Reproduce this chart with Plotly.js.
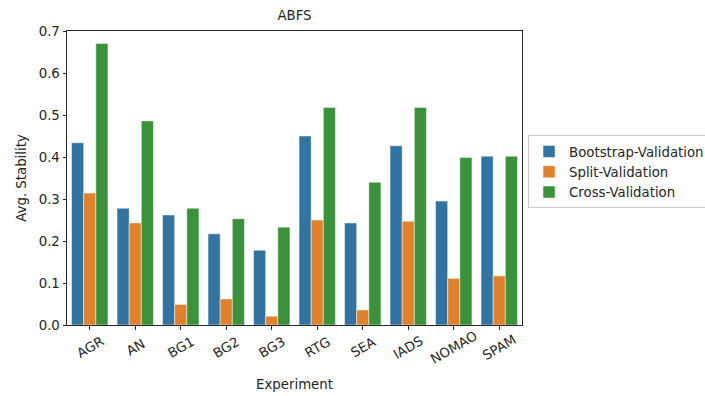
<!DOCTYPE html>
<html>
<head>
<meta charset="utf-8">
<script src="https://cdn.plot.ly/plotly-3.0.1.min.js"></script>
<style>html,body{margin:0;padding:0;background:#fff;}#chart{width:705px;height:396px;}</style>
</head>
<body>
<div id="chart"></div>
<script>
const experiments = ["AGR","AN","BG1","BG2","BG3","RTG","SEA","IADS","NOMAO","SPAM"];
const bootstrapValidation = [0.434,0.278,0.262,0.217,0.178,0.450,0.243,0.427,0.295,0.402];
const splitValidation = [0.314,0.243,0.049,0.062,0.021,0.250,0.036,0.247,0.111,0.117];
const crossValidation = [0.670,0.486,0.278,0.253,0.233,0.518,0.340,0.518,0.399,0.402];
const seriesNames = ["Bootstrap-Validation","Split-Validation","Cross-Validation"];
const yTicks = [0,0.1,0.2,0.3,0.4,0.5,0.6,0.7];

const colors = ["#3274a1","#e1812c","#3a923a"];
const seriesValues = [bootstrapValidation, splitValidation, crossValidation];
const traces = seriesValues.map((vals, i) => ({
  type: "bar",
  name: seriesNames[i],
  x: experiments,
  y: vals,
  marker: {color: colors[i], line: {color: "rgba(255,255,255,0.6)", width: 0.8}},
  hoverinfo: "x+y+name"
}));

const FS = 13.3;
const font = {family: "DejaVu Sans, sans-serif", size: FS, color: "#262626"};

// rotated category labels, centred on each tick like matplotlib (rotation=30, ha=center)
const tickAnnotations = experiments.map(name => ({
  x: name, xref: "x", y: 0, yref: "paper",
  text: name, showarrow: false, textangle: -30,
  xanchor: "center", yanchor: "middle", yshift: -22,
  font: font
}));

const layout = {
  width: 705, height: 396,
  margin: {l: 67, r: 183, t: 31, b: 71, pad: 0, autoexpand: false},
  paper_bgcolor: "#fff", plot_bgcolor: "#fff",
  font: font,
  title: {text: "ABFS", font: {family: "DejaVu Sans, sans-serif", size: FS, color: "#262626"},
          xref: "paper", x: 0.5, xanchor: "center", y: 0.962, yanchor: "middle"},
  barmode: "group", bargap: 0.2, bargroupgap: 0,
  xaxis: {
    type: "category",
    showline: true, linecolor: "#262626", linewidth: 1, mirror: true,
    ticks: "outside", ticklen: 3.5, tickcolor: "#262626",
    showticklabels: false,
    showgrid: false, zeroline: false,
    title: {text: "Experiment", font: font, standoff: 51}
  },
  yaxis: {
    range: [0, 0.7],
    tickvals: yTicks, ticktext: yTicks.map(v => v.toFixed(1)),
    showline: true, linecolor: "#262626", linewidth: 1, mirror: true,
    ticks: "outside", ticklen: 3.5, tickcolor: "#262626",
    tickfont: font,
    showgrid: false, zeroline: false,
    title: {text: "Avg. Stability", font: font, standoff: 9}
  },
  annotations: tickAnnotations,
  legend: {
    xref: "container", yref: "container",
    x: 0.749, xanchor: "left", y: 0.566, yanchor: "middle",
    bordercolor: "#cccccc", borderwidth: 1, bgcolor: "#fff",
    font: font,
    tracegroupgap: 0, itemwidth: 30
  },
  showlegend: true
};
Plotly.newPlot("chart", traces, layout, {displayModeBar: false, staticPlot: true});
</script>
</body>
</html>
